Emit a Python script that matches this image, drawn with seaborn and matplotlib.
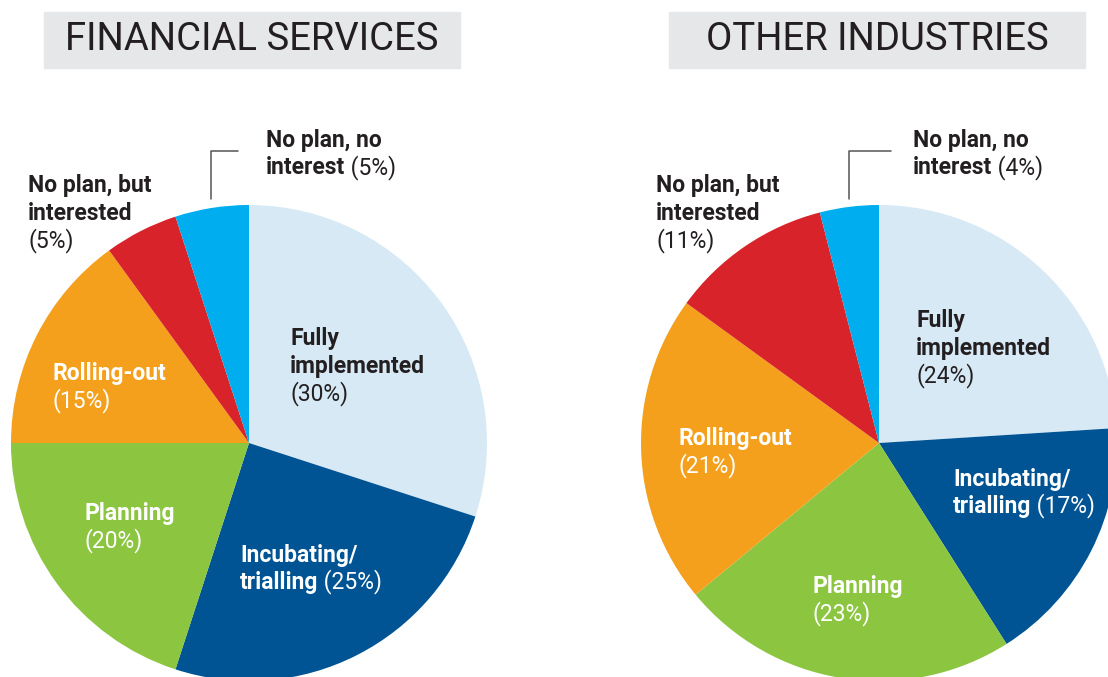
import matplotlib.pyplot as plt
import seaborn as sns

sns.set_theme(style="white")
plt.rcParams["font.family"] = ["Roboto", "DejaVu Sans"]

W, H = 1108, 677

categories = ["Fully implemented", "Incubating/trialling", "Planning",
              "Rolling-out", "No plan, but interested", "No plan, no interest"]
financial = [30, 25, 20, 15, 5, 5]
other = [24, 17, 23, 21, 11, 4]
titles = ["FINANCIAL SERVICES", "OTHER INDUSTRIES"]

# bold part of each label, line by line (percentage appended in regular weight)
label_lines = [
    ["Fully", "implemented"],
    ["Incubating/", "trialling"],
    ["Planning"],
    ["Rolling-out"],
    ["No plan, but", "interested"],
    ["No plan, no", "interest"],
]
# whether the percentage goes on its own line
pct_own_line = [True, False, True, True, True, False]

colors = sns.color_palette(["#d8e9f6", "#005493", "#8cc540", "#f5a01d", "#d8232a", "#00aeef"])
text_colors = ["#231f20", "white", "white", "white", "#231f20", "#231f20"]
dark = "#231f20"

# layout in pixels (x, first baseline y)
centers = [(249, 443), (879, 443)]
radius = 238
label_pos = [
    [(290, 345), (240, 562), (84, 520), (53, 380), (28, 192), (266, 147)],
    [(916, 327), (953, 486), (813, 593), (678, 445), (656, 192), (913, 147)],
]
box_x = [(44, 460), (669, 1085)]
leader = [(211, 238), (849, 891)]
line_h = 27.5
fs = 16.5

fig = plt.figure(figsize=(W / 100, H / 100), dpi=100)
ax = fig.add_axes([0, 0, 1, 1])

for k, values in enumerate([financial, other]):
    cx, cy = centers[k]
    ax.pie(values, colors=colors, startangle=90, counterclock=False,
           radius=radius, center=(cx, H - cy), frame=True,
           wedgeprops=dict(linewidth=0))

    # title box
    x0, x1 = box_x[k]
    ax.add_patch(plt.Rectangle((x0, H - 68), x1 - x0, 56, color="#e6e7e8", zorder=1))
    ax.text((x0 + x1) / 2, H - 39.5, titles[k], ha="center", va="center",
            fontsize=27.5, fontweight="normal", color=dark)

    # leader line for the small slice
    lx, rx = leader[k]
    ax.plot([lx, lx, rx], [H - 199, H - 151, H - 151], color="#555555", lw=1.1)

    for i, lines in enumerate(label_lines):
        x, y = label_pos[k][i]
        pct = f"({values[i]}%)"
        last = None
        for j, ln in enumerate(lines):
            last = ax.text(x, H - (y + j * line_h), ln, ha="left", va="baseline",
                           fontsize=fs, fontweight="bold", color=text_colors[i])
        if pct_own_line[i]:
            ax.text(x, H - (y + len(lines) * line_h), pct, ha="left", va="baseline",
                    fontsize=fs, color=text_colors[i])
        else:
            ax.annotate(" " + pct, xy=(1, 0), xycoords=last, ha="left", va="bottom",
                        fontsize=fs, color=text_colors[i])

ax.set_xlim(0, W)
ax.set_ylim(0, H)
ax.set_aspect("auto")
ax.axis("off")

fig.savefig("out.png", dpi=100)
